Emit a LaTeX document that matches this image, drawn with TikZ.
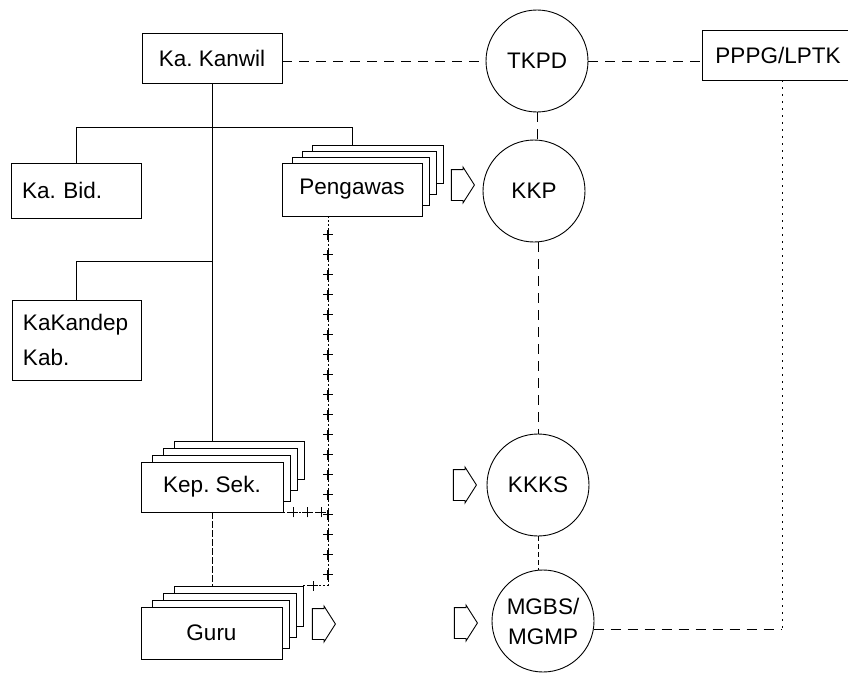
\documentclass[tikz,border=0pt]{standalone}
\usepackage{fontspec}
\setmainfont{Liberation Sans}
\usetikzlibrary{shapes.arrows,fit,decorations.markings}
\frenchspacing
\begin{document}
\begin{tikzpicture}[x=1pt,y=-1pt,
  every node/.style={font=\fontsize{22.5}{26}\selectfont},
  box/.style={draw, line width=0.9pt, fill=white, inner sep=0pt},
  layer/.style={draw, line width=0.9pt, fill=white, inner sep=0pt},
  ring/.style={draw, circle, line width=0.9pt, minimum size=102pt, inner sep=0pt, align=center},
  link/.style={line width=0.9pt},
  dlink/.style={line width=0.9pt, dash pattern=on 10pt off 7pt},
  dlinkb/.style={line width=0.9pt, dash pattern=on 5pt off 3pt},
  dlinkc/.style={line width=0.9pt, dash pattern=on 7pt off 2pt},
  dotlink/.style={line width=0.7pt, dash pattern=on 2pt off 5pt},
  thinline/.style={line width=0.6pt, dash pattern=on 2pt off 2pt},
  plusmarks/.style 2 args={postaction={decorate}, decoration={markings,
     mark=between positions #1 and 1 step #2 with {\draw[solid, line width=1.1pt] (-5pt,0) -- (5pt,0) (0,-5pt) -- (0,5pt);}}},
  harrow/.style={draw, single arrow, line width=0.9pt, inner xsep=0pt, inner ysep=15pt,
     text height=0pt, text depth=0pt, text width=0pt, minimum height=23pt, minimum width=35pt,
     single arrow head extend=2.5pt, single arrow tip angle=115}
]
\useasboundingbox (0,0) rectangle (848,677);
\clip (0,0) rectangle (848,677);

% top row
\node[box, minimum width=140pt, minimum height=50pt] (kanwil) at (212,58) {Ka. Kanwil};
\node[ring] (tkpd) at (537,61) {TKPD};
\node[box, minimum width=152pt, minimum height=50pt] (pppg) at (778,55) {PPPG/LPTK};

% left boxes
\node[box, minimum width=130pt, minimum height=55pt, text width=108pt, inner xsep=11pt, align=left] (kabid) at (76,190.5) {Ka. Bid.};
\node[box, minimum width=129pt, minimum height=80pt, text width=107pt, inner xsep=11pt, align=left,
      font=\fontsize{22.5}{35}\selectfont] (kakandep) at (76.5,340) {KaKandep\\Kab.};

% Pengawas stack
\node[layer, fit={(312,145)(443,183)}] (peng3) {};
\node[layer, fit={(302,151)(436,194)}] (peng2) {};
\node[layer, fit={(292,157)(429,205)}] (peng1) {};
\node[box, minimum width=140pt, minimum height=53pt] (peng) at (352,189.5) {Pengawas};

% Kep. Sek. stack
\node[layer, fit={(174,441)(304,479)}] (kep3) {};
\node[layer, fit={(163,448)(297,490)}] (kep2) {};
\node[layer, fit={(152,455)(290,501)}] (kep1) {};
\node[box, minimum width=142pt, minimum height=50pt] (kep) at (212,487) {Kep. Sek.};

% Guru stack
\node[layer, fit={(174,586)(303,626)}] (guru3) {};
\node[layer, fit={(163,593)(296,637)}] (guru2) {};
\node[layer, fit={(152,600)(289,648)}] (guru1) {};
\node[box, minimum width=141pt, minimum height=52pt] (guru) at (211.5,633) {Guru};

% circles
\node[ring] (kkp) at (534,191) {KKP};
\node[ring] (kkks) at (538,485) {KKKS};
\node[ring, font=\fontsize{22.5}{30}\selectfont] (mgmp) at (543,621) {MGBS/\\MGMP};

% hollow arrows
\node[harrow] (ar1) at (458,185) {};
\node[harrow] (ar2) at (460,485) {};
\node[harrow] (ar3) at (319,624) {};
\node[harrow] (ar4) at (461,623) {};

% solid hierarchy
\coordinate (j1) at (212,127);
\coordinate (j2) at (212,261);
\draw[link] (kanwil.south) -- (kanwil.south |- kep3.north);
\draw[link] (j1) -| (kabid.north);
\draw[link] (j1) -| (peng3.north -| peng.north);
\draw[link] (j2) -| (kakandep.north);
\draw[dlinkc] (kep.south) -- (kep.south |- guru3.north);

% dashed coordination
\draw[dlink] (kanwil.east |- tkpd.west) -- (tkpd.west);
\draw[dlink] (tkpd.east) -- (tkpd.east -| pppg.west);
\draw[dlink] (tkpd.south) -- (tkpd.south |- kkp.north);
\draw[dlink] (kkks.north |- kkp.south) -- (kkks.north);
\draw[dlinkb] (kkks.south) -- (kkks.south |- mgmp.north);
\coordinate (corner) at (782,628);
\draw[dlink] (mgmp.-10) -- (mgmp.-10 -| corner);
\draw[dotlink] (pppg.south -| corner) -- (corner);

% supervision line with crosses
\coordinate (pl0) at (328,216);
\coordinate (pl1) at (328,587);
\draw[thinline, plusmarks={0.05}{20pt}] (pl0) -- (pl1);
\draw[thinline, plusmarks={0.22}{14pt}] (kep.south east) -- (kep.south east -| pl0);
\draw[thinline, plusmarks={0.4}{30pt}] (guru3.north east) -- (guru3.north east -| pl0);
\end{tikzpicture}
\end{document}
